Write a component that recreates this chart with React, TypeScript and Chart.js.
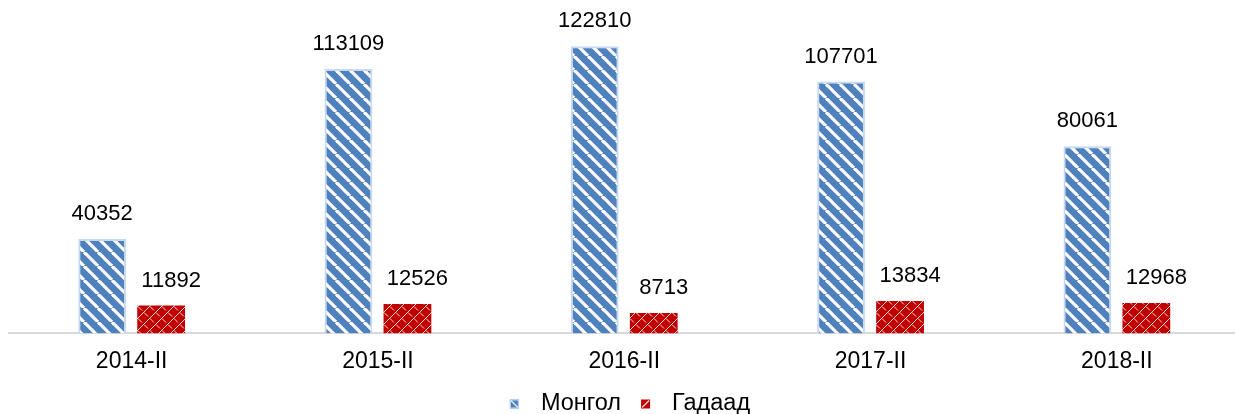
import React, { useEffect, useRef } from "react";
import { Chart, registerables } from "chart.js";

Chart.register(...registerables);

const categories = ["2014-II", "2015-II", "2016-II", "2017-II", "2018-II"];
const mongolValues = [40352, 113109, 122810, 107701, 80061];
const gadaadValues = [11892, 12526, 8713, 13834, 12968];
const seriesNames = ["Монгол", "Гадаад"];

const FONT = "'Liberation Sans', Arial, sans-serif";

function makeBluePattern(): CanvasPattern | string {
  const c = document.createElement("canvas");
  const s = 14;
  c.width = s;
  c.height = s;
  const ctx = c.getContext("2d");
  if (!ctx) return "#4f81bd";
  ctx.fillStyle = "#4f81bd";
  ctx.fillRect(0, 0, s, s);
  ctx.strokeStyle = "#ffffff";
  ctx.lineWidth = 3.2;
  for (const off of [-s, 0, s]) {
    ctx.beginPath();
    ctx.moveTo(off, 0);
    ctx.lineTo(off + s, s);
    ctx.stroke();
  }
  return ctx.createPattern(c, "repeat") || "#4f81bd";
}

function makeRedPattern(): CanvasPattern | string {
  const c = document.createElement("canvas");
  const s = 12;
  c.width = s;
  c.height = s;
  const ctx = c.getContext("2d");
  if (!ctx) return "#c00000";
  ctx.fillStyle = "#c00000";
  ctx.fillRect(0, 0, s, s);
  ctx.strokeStyle = "rgba(255,235,235,0.9)";
  ctx.lineWidth = 1;
  for (const off of [-s, 0, s]) {
    ctx.beginPath();
    ctx.moveTo(off, s);
    ctx.lineTo(off + s, 0);
    ctx.stroke();
  }
  ctx.beginPath();
  ctx.moveTo(6, 6.5);
  ctx.lineTo(10, 10.5);
  ctx.moveTo(0, 0.5);
  ctx.lineTo(4, 4.5);
  ctx.stroke();
  return ctx.createPattern(c, "repeat") || "#c00000";
}

const valueLabels = {
  id: "valueLabels",
  afterDatasetsDraw(chart: any) {
    const ctx = chart.ctx;
    ctx.save();
    ctx.font = "22px " + FONT;
    ctx.fillStyle = "#000000";
    ctx.textAlign = "center";
    ctx.textBaseline = "middle";
    chart.data.datasets.forEach((ds: any, i: number) => {
      const meta = chart.getDatasetMeta(i);
      meta.data.forEach((bar: any, j: number) => {
        ctx.fillText(String(ds.data[j]), bar.x + (i === 1 ? 10 : 0), bar.y - 25);
      });
    });
    ctx.restore();
  },
};

const customLegend = {
  id: "customLegend",
  afterDraw(chart: any) {
    const ctx = chart.ctx;
    ctx.save();
    ctx.font = "23.5px " + FONT;
    ctx.textBaseline = "middle";
    ctx.textAlign = "left";
    const box = 9;
    const gapText = 22;
    const gapItem = 20;
    const widths = chart.data.datasets.map((d: any) => ctx.measureText(d.label).width);
    let total = 0;
    widths.forEach((w: number, i: number) => {
      total += box + gapText + w + (i < widths.length - 1 ? gapItem : 0);
    });
    let x = chart.width / 2 + 10 - total / 2;
    const y = 404;
    const solid = ["#4f81bd", "#c00000"];
    chart.data.datasets.forEach((d: any, i: number) => {
      ctx.fillStyle = solid[i];
      ctx.fillRect(x, y - box / 2, box, box);
      ctx.strokeStyle = "rgba(255,255,255,0.8)";
      ctx.lineWidth = 1.5;
      ctx.beginPath();
      if (i === 0) {
        ctx.moveTo(x + 1, y - box / 2 + 1);
        ctx.lineTo(x + box - 1, y + box / 2 - 1);
      } else {
        ctx.moveTo(x + 1, y + box / 2 - 1);
        ctx.lineTo(x + box - 1, y - box / 2 + 1);
      }
      ctx.stroke();
      if (i === 0) {
        ctx.strokeStyle = "#c6d9f1";
        ctx.lineWidth = 1;
        ctx.strokeRect(x + 0.5, y - box / 2 + 0.5, box - 1, box - 1);
      }
      x += box + gapText;
      ctx.fillStyle = "#000000";
      ctx.fillText(d.label, x, y);
      x += widths[i] + gapItem;
    });
    ctx.restore();
  },
};

export default function App() {
  const ref = useRef<HTMLCanvasElement | null>(null);
  useEffect(() => {
    if (!ref.current) return;
    const blue = makeBluePattern();
    const red = makeRedPattern();
    const chart = new Chart(ref.current, {
      type: "bar",
      data: {
        labels: categories,
        datasets: [
          {
            label: seriesNames[0],
            data: mongolValues,
            backgroundColor: blue as any,
            borderColor: "#c6d9f1",
            borderWidth: 2,
            barPercentage: 0.81,
            categoryPercentage: 0.479,
          },
          {
            label: seriesNames[1],
            data: gadaadValues,
            backgroundColor: red as any,
            borderWidth: 0,
            barPercentage: 0.81,
            categoryPercentage: 0.479,
          },
        ],
      },
      options: {
        responsive: false,
        animation: false,
        layout: { padding: { left: 8.5, right: 0, top: 6, bottom: 25 } },
        plugins: {
          legend: { display: false },
          tooltip: { enabled: false },
        },
        scales: {
          x: {
            grid: { display: false, drawTicks: false },
            border: { display: true, color: "#d9d9d9", width: 2 },
            ticks: {
              color: "#000000",
              font: { size: 23, family: FONT },
              padding: 14,
            },
          },
          y: {
            display: false,
            min: 0,
            max: 140000,
          },
        },
      },
      plugins: [valueLabels, customLegend],
    });
    return () => chart.destroy();
  }, []);
  return (
    <div style={{ position: "absolute", left: 0, top: 0, width: 1235, height: 414, overflow: "hidden", background: "#fff" }}>
      <canvas ref={ref} width={1240} height={414} />
    </div>
  );
}
